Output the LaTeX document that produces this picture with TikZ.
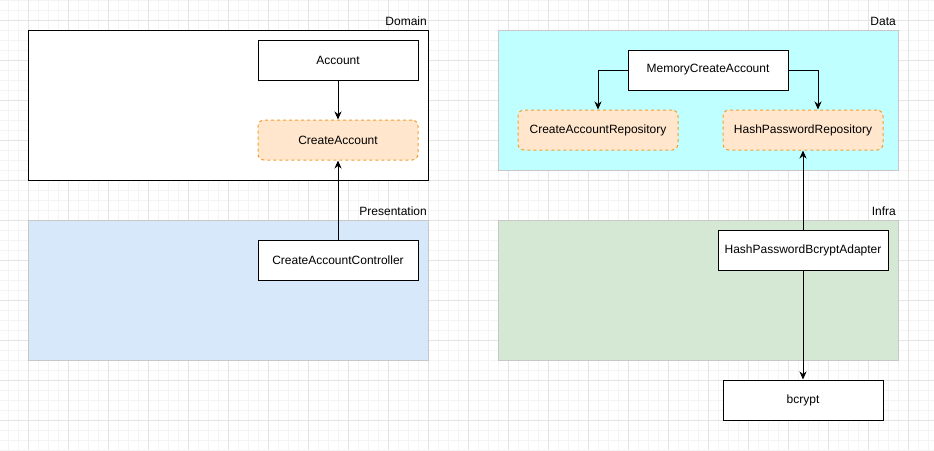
\documentclass[tikz,border=0pt]{standalone}
\usepackage{fontspec}
\setmainfont{Liberation Sans}
\usetikzlibrary{arrows.meta}
\definecolor{gridmajor}{HTML}{E4E4E4}
\definecolor{gridminor}{HTML}{F4F4F4}
\definecolor{layerborder}{HTML}{C8C8C8}
\definecolor{domfill}{HTML}{FFFFFF}
\definecolor{presfill}{HTML}{D6E8F9}
\definecolor{datafill}{HTML}{C0FFFF}
\definecolor{infrafill}{HTML}{D5E8D4}
\definecolor{ifborder}{HTML}{F0A030}
\definecolor{iffill}{HTML}{FFE6CC}
\tikzset{
  layer/.style={draw=layerborder, line width=1pt},
  classbox/.style={draw=black, fill=white, line width=1pt, minimum width=160pt, minimum height=40pt, inner sep=0pt, font=\fontsize{12pt}{14pt}\selectfont},
  ifacebox/.style={draw=ifborder, fill=iffill, line width=1pt, dash pattern=on 3pt off 3pt, rounded corners=6pt, minimum width=160pt, minimum height=40pt, inner sep=0pt, font=\fontsize{12pt}{14pt}\selectfont},
  layerlabel/.style={anchor=east, inner sep=0pt, font=\fontsize{12pt}{14pt}\selectfont},
  conn/.style={draw=black, line width=1pt, -{Stealth[length=8pt,width=7pt,inset=2.5pt]}},
}
\begin{document}
\begin{tikzpicture}[x=1pt,y=-1pt]
\useasboundingbox (0,0) rectangle (934,450);
\fill[white] (0,0) rectangle (934,450);
% minor grid
\foreach \gx in {8,18,...,928} \draw[gridminor, line width=0.8pt] (\gx,0) -- (\gx,450);
\foreach \gy in {0,10,...,450} \draw[gridminor, line width=0.8pt] (0,\gy) -- (934,\gy);
% major grid
\foreach \gx in {28,68,...,908} \draw[gridmajor, line width=1pt] (\gx,0) -- (\gx,450);
\foreach \gy in {20,60,...,420} \draw[gridmajor, line width=1pt] (0,\gy) -- (934,\gy);

% layers
\draw[fill=domfill, draw=black, line width=1pt] (28,30) rectangle (428,180);
\node[layerlabel] (domlbl) at (427,21) {Domain};
\draw[layer, fill=presfill] (28,220) rectangle (428,360);
\node[layerlabel] (preslbl) at (427,211) {Presentation};
\draw[layer, fill=datafill] (498,30) rectangle (898,170);
\node[layerlabel] (datalbl) at (896,21) {Data};
\draw[layer, fill=infrafill] (498,220) rectangle (898,360);
\node[layerlabel] (infralbl) at (896,211) {Infra};

% nodes
\node[classbox] (account) at (338,60) {Account};
\node[ifacebox] (createaccount) at (338,140) {CreateAccount};
\node[classbox] (controller) at (338,260) {CreateAccountController};
\node[classbox] (memory) at (708,70) {MemoryCreateAccount};
\node[ifacebox] (carepo) at (598,130) {CreateAccountRepository};
\node[ifacebox] (hprepo) at (803,130) {HashPasswordRepository};
\node[classbox, minimum width=170pt] (adapter) at (803,250) {HashPasswordBcryptAdapter};
\node[classbox] (bcrypt) at (803,400) {bcrypt};

% connectors
\draw[conn] (account.south) -- (createaccount.north);
\draw[conn] (controller.north) -- (createaccount.south);
\draw[conn] (memory.west) -| (carepo.north);
\draw[conn] (memory.east) -| ([xshift=15pt]hprepo.north);
\draw[conn] (adapter.north) -- (hprepo.south);
\draw[conn] (adapter.south) -- (bcrypt.north);
\end{tikzpicture}
\end{document}
